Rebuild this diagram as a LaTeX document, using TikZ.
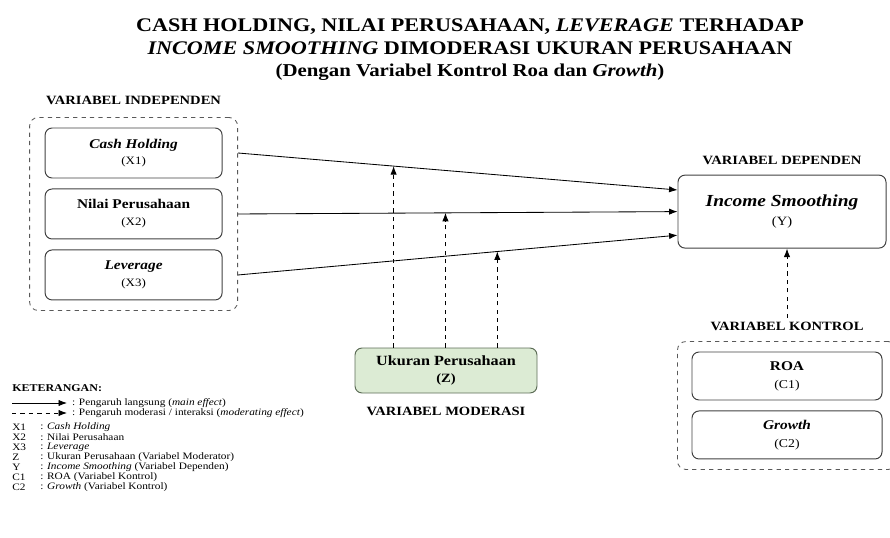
\documentclass[tikz,border=0pt]{standalone}
\usepackage{fontspec}
\setmainfont{Liberation Serif}[FakeStretch=1.15]
\usepackage{tikz}
\usetikzlibrary{arrows.meta, positioning, fit}
\definecolor{modfill}{HTML}{DCEBD4}
\definecolor{modedge}{HTML}{5E6E58}
\tikzstyle{varbox} = [rectangle, rounded corners=5pt, draw=black!75, line width=0.7pt, minimum width=4.425cm, minimum height=1.25cm, align=center, font=\fontsize{8}{12}\selectfont]
\tikzstyle{groupbox} = [rectangle, rounded corners=6pt, draw=black!65, dashed, line width=0.6pt]
\tikzstyle{grouplabel} = [inner sep=0pt, font=\fontsize{9}{10}\selectfont\bfseries]
\tikzstyle{arrow} = [line width=0.6pt,->,>={Latex[length=6pt,width=4.5pt]}]
\tikzstyle{modarrow} = [line width=0.6pt,->,>={Latex[length=6pt,width=4.5pt]}, dashed]
\tikzstyle{legtext} = [anchor=west, inner sep=0pt, font=\fontsize{7}{7}\selectfont]

\begin{document}
\begin{tikzpicture}[node distance=1.2cm]
\useasboundingbox (0,0) rectangle (22.25,-13.45);

% Title
\node (title) [align=center, font=\fontsize{13.7}{16}\selectfont\bfseries] at (11.75,-1.25) {CASH HOLDING, NILAI PERUSAHAAN, \textit{LEVERAGE} TERHADAP\\ \textit{INCOME SMOOTHING} DIMODERASI UKURAN PERUSAHAAN\\ {\fontsize{12.9}{16}\selectfont (Dengan Variabel Kontrol Roa dan \textit{Growth})}};

% Left side: independent variables
\node (x1) [varbox] at (3.34,-3.825) {{\fontsize{9.5}{12}\selectfont\bfseries\itshape Cash Holding}\\(X1)};
\node (x2) [varbox, below=0.25cm of x1] {{\fontsize{9.5}{12}\selectfont\bfseries Nilai Perusahaan}\\(X2)};
\node (x3) [varbox, below=0.25cm of x2] {{\fontsize{9.5}{12}\selectfont\bfseries\itshape Leverage}\\(X3)};
\node (indep) [groupbox, fit=(x1)(x2)(x3), inner xsep=0.375cm, inner ysep=0.25cm] {};
\node (indeplabel) [grouplabel, above=0.3cm of indep] {VARIABEL INDEPENDEN};

% Right side: dependent variable
\node (y) [varbox, minimum width=5.2cm, minimum height=1.825cm, font=\fontsize{9}{14}\selectfont] at (19.55,-5.29) {{\fontsize{12}{14}\selectfont\bfseries\itshape Income Smoothing}\\(Y)};
\node (deplabel) [grouplabel, above=0.25cm of y] {VARIABEL DEPENDEN};

% Control variables
\node (c1) [varbox, minimum width=4.75cm, minimum height=1.2cm, font=\fontsize{8.5}{13}\selectfont] at (19.675,-9.4) {{\fontsize{9.5}{13}\selectfont\bfseries ROA}\\(C1)};
\node (c2) [varbox, minimum width=4.75cm, minimum height=1.2cm, font=\fontsize{8.5}{13}\selectfont, below=0.25cm of c1] {{\fontsize{9.5}{13}\selectfont\bfseries\itshape Growth}\\(C2)};
\node (kontrol) [groupbox, fit=(c1)(c2), inner xsep=0.35cm, inner ysep=0.25cm] {};
\node (ctrllabel) [grouplabel, above=0.25cm of kontrol] {VARIABEL KONTROL};

% Moderator
\node (z) [varbox, fill=modfill, draw=modedge, minimum width=4.55cm, minimum height=1.125cm, font=\fontsize{9}{12}\selectfont\bfseries] at (11.15,-9.2625) {{\fontsize{10}{12}\selectfont Ukuran Perusahaan}\\(Z)};
\node (modlabel) [grouplabel, below=0.33cm of z] {VARIABEL MODERASI};

% Main effects
\draw [arrow] (indep.east |- x1) -- coordinate[pos=0.354] (m1) ([yshift=0.54cm]y.west);
\draw [arrow] (indep.east |- x2) -- coordinate[pos=0.472] (m2) (y.west);
\draw [arrow] (indep.east |- x3) -- coordinate[pos=0.59] (m3) ([yshift=-0.59cm]y.west);

% Moderating effects
\draw [modarrow] (m1 |- z.north) -- (m1);
\draw [modarrow] (m2 |- z.north) -- (m2);
\draw [modarrow] (m3 |- z.north) -- (m3);
\draw [modarrow] ([yshift=3pt]ctrllabel.north) -- (ctrllabel.north |- y.south);

% Legend
\node (ket) [legtext, font=\fontsize{7.4}{8}\selectfont\bfseries] at (0.3,-9.7) {KETERANGAN:};
\coordinate (sa) at (0.3,-10.075);
\coordinate (sb) at (1.675,-10.075);
\draw [arrow] (sa) -- (sb);
\node (mainfx) [legtext, right=0.12cm of sb] {: Pengaruh langsung (\textit{main effect})};
\coordinate (da) at (0.3,-10.325);
\coordinate (db) at (1.675,-10.325);
\draw [modarrow] (da) -- (db);
\node (modfx) [legtext, right=0.12cm of db] {: Pengaruh moderasi / interaksi (\textit{moderating effect})};

\node (kx1) [legtext] at (0.3,-10.675) {X1};
\node (tx1) [legtext] at (1.0,-10.675) {: \textit{Cash Holding}};
\node (kx2) [legtext] at (0.3,-10.925) {X2};
\node (tx2) [legtext] at (1.0,-10.925) {: Nilai Perusahaan};
\node (kx3) [legtext] at (0.3,-11.175) {X3};
\node (tx3) [legtext] at (1.0,-11.175) {: \textit{Leverage}};
\node (kz) [legtext] at (0.3,-11.425) {Z};
\node (tz) [legtext] at (1.0,-11.425) {: Ukuran Perusahaan (Variabel Moderator)};
\node (ky) [legtext] at (0.3,-11.675) {Y};
\node (ty) [legtext] at (1.0,-11.675) {: \textit{Income Smoothing} (Variabel Dependen)};
\node (kc1) [legtext] at (0.3,-11.925) {C1};
\node (tc1) [legtext] at (1.0,-11.925) {: ROA (Variabel Kontrol)};
\node (kc2) [legtext] at (0.3,-12.175) {C2};
\node (tc2) [legtext] at (1.0,-12.175) {: \textit{Growth} (Variabel Kontrol)};

\end{tikzpicture}
\end{document}
